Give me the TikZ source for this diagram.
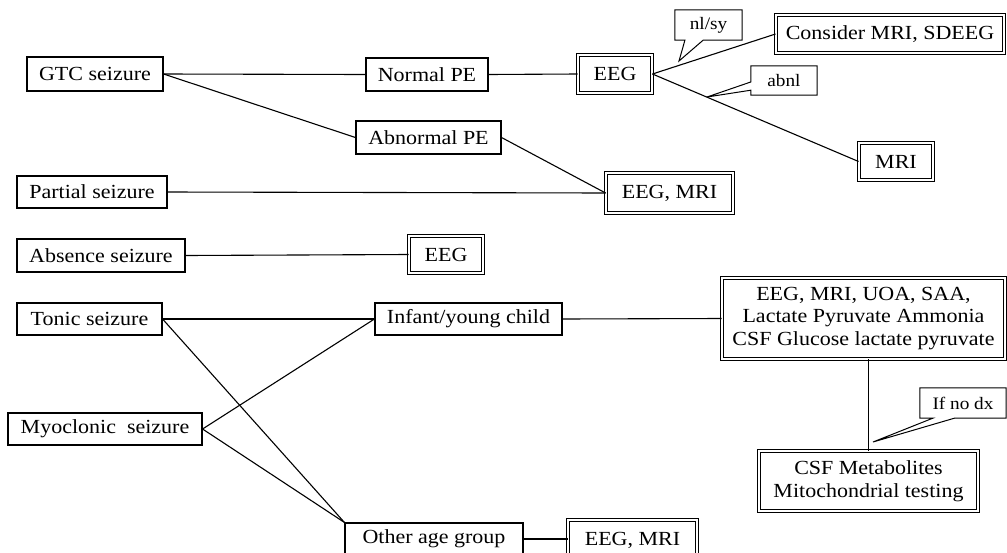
\documentclass[tikz,border=0pt]{standalone}
\usepackage{fontspec}
\setmainfont{Liberation Serif}[FakeStretch=1.1]
\usetikzlibrary{calc}

\tikzset{
  box/.style={draw, line width=1.1pt, rectangle, inner sep=0pt, align=center,
    font=\fontsize{20}{22.5}\selectfont},
  dbox/.style={box, double=white, line width=0.9pt, double distance=1.6pt},
  note/.style={rectangle, inner sep=0pt, font=\fontsize{17.5}{19}\selectfont},
  notebox/.style={draw, line width=1pt, line join=miter},
  link/.style={draw, line width=1.1pt}
}

\begin{document}
\begin{tikzpicture}[x=1pt,y=-1pt]
\useasboundingbox (0,0) rectangle (1007,552);

% generalised tonic-clonic branch
\node[box, minimum width=136, minimum height=34] (gtc) at (95,74) {GTC seizure};
\node[box, minimum width=122, minimum height=33] (normal) at (427,74.5) {Normal PE};
\node[box, minimum width=145, minimum height=33] (abn) at (428.5,137.5) {Abnormal PE};
\node[dbox, minimum width=74, minimum height=38] (eegA) at (615,74) {EEG};
\node[dbox, minimum width=228, minimum height=38] (consider) at (890,34) {Consider MRI, SDEEG};
\node[dbox, minimum width=74, minimum height=37] (mriA) at (896,161.5) {MRI};

% partial and absence
\node[box, minimum width=150, minimum height=32] (partial) at (92,192) {Partial seizure};
\node[dbox, minimum width=127, minimum height=40] (eegmriA) at (669.5,193) {EEG, MRI};
\node[box, minimum width=168, minimum height=33] (absence) at (101,255.5) {Absence seizure};
\node[dbox, minimum width=74, minimum height=37] (eegB) at (446,254.5) {EEG};

% tonic and myoclonic
\node[box, minimum width=145, minimum height=32] (tonic) at (89.5,319) {Tonic seizure};
\node[box, minimum width=194, minimum height=32] (myo) at (105,429) {Myoclonic\ \ seizure};
\node[box, minimum width=187, minimum height=32] (infant) at (468.5,319) {Infant/young child};
\node[box, minimum width=178, minimum height=32] (other) at (434,539) {Other age group};
\node[dbox, minimum width=129, minimum height=40] (eegmriB) at (632.5,540) {EEG, MRI};
\node[dbox, minimum width=283, minimum height=81] (big) at (863.5,318.5)
  {EEG, MRI, UOA, SAA,\\Lactate Pyruvate Ammonia\\CSF Glucose lactate pyruvate};
\node[dbox, minimum width=219, minimum height=60] (csf) at (868.5,481)
  {CSF Metabolites\\Mitochondrial testing};

% connectors
\draw[link] (gtc.east) -- (normal.west);
\draw[link] (gtc.east) -- (abn.west);
\draw[link] (normal.east) -- (eegA.west);
\draw[link] (eegA.east) -- (consider.west);
\draw[link] (eegA.east) -- (mriA.west);
\draw[link] (abn.east) -- (eegmriA.west);
\draw[link] (partial.east) -- (eegmriA.west);
\draw[link] (absence.east) -- (eegB.west);
\draw[link] (tonic.east) -- (infant.west);
\draw[link] (tonic.east) -- (other.north west);
\draw[link] (myo.east) -- (infant.west);
\draw[link] (myo.east) -- (other.north west);
\draw[link] (infant.east) -- (big.west);
\draw[link] (other.east) -- (other.east -| eegmriB.west);
\draw[link] (big.south -| csf.north) -- (csf.north);

% callouts
\node[note, minimum width=67, minimum height=30] (nlsy) at (708.5,25) {nl/sy};
\coordinate (nlsytip) at (679,61);
\draw[notebox] (nlsy.south west) -- (nlsy.north west) -- (nlsy.north east)
  -- (nlsy.south east) -- ($(nlsy.south west)!0.42!(nlsy.south east)$)
  -- (nlsytip) -- ($(nlsy.south west)!0.15!(nlsy.south east)$) -- cycle;

\node[note, minimum width=66, minimum height=29] (abnl) at (784,80.5) {abnl};
\coordinate (abnltip) at (707,97);
\draw[notebox] (abnl.north west) -- (abnl.north east) -- (abnl.south east)
  -- (abnl.south west) -- ($(abnl.north west)!0.83!(abnl.south west)$)
  -- (abnltip) -- ($(abnl.north west)!0.55!(abnl.south west)$) -- cycle;

\node[note, minimum width=86, minimum height=30] (nodx) at (963,403) {If no dx};
\coordinate (nodxtip) at (873,442);
\draw[notebox] (nodx.south west) -- (nodx.north west) -- (nodx.north east)
  -- (nodx.south east) -- ($(nodx.south west)!0.40!(nodx.south east)$)
  -- (nodxtip) -- ($(nodx.south west)!0.15!(nodx.south east)$) -- cycle;
\end{tikzpicture}
\end{document}
